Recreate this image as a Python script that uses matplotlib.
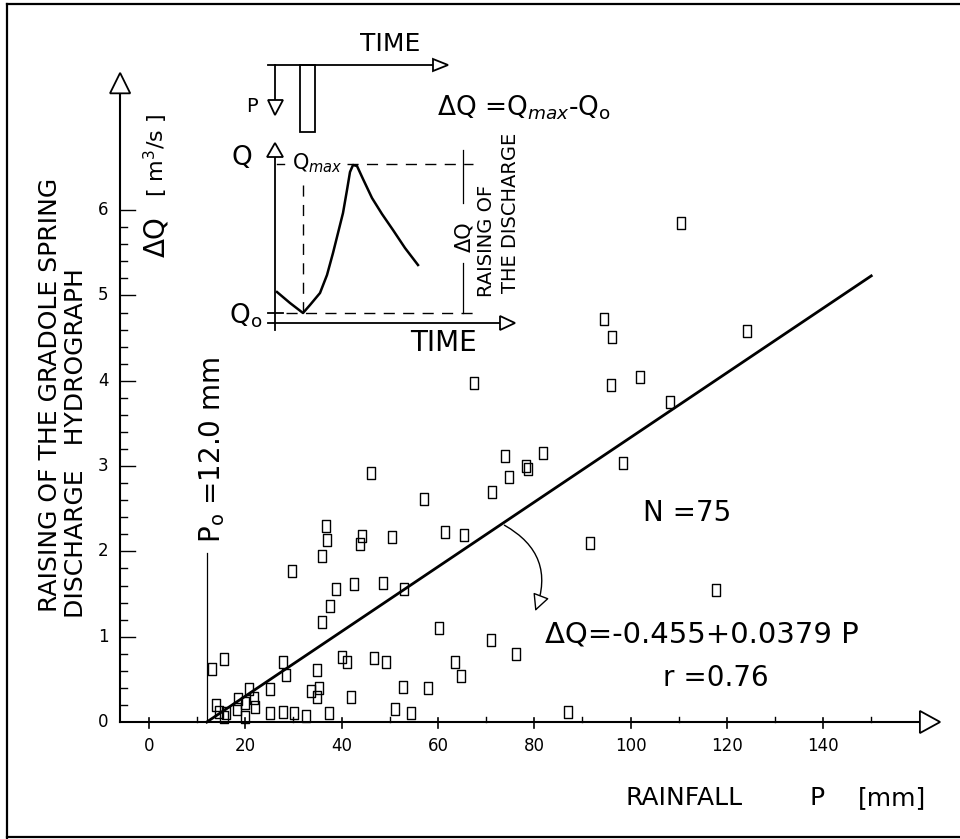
import matplotlib.pyplot as plt
import numpy as np
from matplotlib.path import Path
from matplotlib.patches import Polygon, Rectangle
from matplotlib.lines import Line2D

# rainfall P [mm] and raising of discharge dQ [m3/s] for each event
rainfall = [46.1, 36.8, 37.0, 44.2, 43.8, 50.5, 35.9, 29.7, 38.8, 42.6, 48.6, 53.0,
            37.6, 35.9, 13.1, 15.6, 27.8, 28.5, 34.9, 40.1, 41.1, 46.7, 49.2, 52.8,
            42.0, 33.6, 35.3, 34.9, 25.1, 20.8, 21.8, 22.0, 18.5, 18.3, 20.0, 20.0,
            13.9, 14.5, 16.0, 15.6, 25.1, 27.8, 30.1, 32.6, 37.4, 51.1, 54.4,
            67.5, 73.9, 78.3, 78.7, 81.8, 74.8, 71.2, 57.1, 61.5, 65.4,
            91.6, 60.2, 71.0, 76.2, 63.6, 64.8, 57.9, 87.0, 98.4, 117.8,
            110.5, 94.5, 96.2, 124.2, 102.0, 96.0, 108.2]
rise = [2.92, 2.30, 2.13, 2.18, 2.09, 2.17, 1.95, 1.77, 1.56, 1.62, 1.63, 1.56,
        1.36, 1.17, 0.62, 0.74, 0.70, 0.55, 0.61, 0.76, 0.70, 0.75, 0.70, 0.41,
        0.29, 0.36, 0.40, 0.29, 0.39, 0.39, 0.28, 0.18, 0.27, 0.15, 0.22, 0.06,
        0.20, 0.12, 0.10, 0.06, 0.10, 0.12, 0.10, 0.07, 0.10, 0.15, 0.11,
        3.97, 3.12, 3.00, 2.97, 3.15, 2.87, 2.70, 2.61, 2.23, 2.19,
        2.10, 1.10, 0.96, 0.80, 0.70, 0.54, 0.40, 0.12, 3.04, 1.55,
        5.85, 4.72, 4.51, 4.58, 4.05, 3.95, 3.75]

x_ticks = [0, 20, 40, 60, 80, 100, 120, 140]
x_minor = [10, 30, 50, 70, 90, 110, 130, 150]
y_ticks = [0, 1, 2, 3, 4, 5, 6]
intercept, slope = -0.455, 0.0379
p0 = 12.0
p_end = 150

# inset sketch of the hydrograph (sketch units = pixels of the inset box)
hydro_t = [277, 290, 303, 310, 320, 327, 333, 338, 343, 347, 350, 353,
           357, 363, 372, 382, 393, 405, 418]
hydro_q = [292, 303, 313, 305, 293, 275, 253, 233, 213, 190, 172, 165,
           166, 179, 198, 214, 230, 248, 265]

W, H = 960, 839
fig = plt.figure(figsize=(W / 100, H / 100), dpi=100)
ax = fig.add_axes([0, 0, 1, 1])
# 0 mm at x=149px, 4.815 px/mm ; 0 m3/s at y=722px, 85.3 px per m3/s
ax.set_xlim(-149 / 4.815, (W - 149) / 4.815)
ax.set_ylim((722 - H) / 85.3, 722 / 85.3)
ax.axis('off')


def ft(x, y, s, **kw):
    fig.text(x / W, 1 - y / H, s, **kw)


def tri(axis, pts):
    axis.add_patch(Polygon(pts, closed=True, facecolor='white', edgecolor='k',
                           lw=1.3, zorder=4))


# frame
for xs, ys in [([7, 7], [4, 838]), ([7, W], [4, 4]), ([7, W], [837, 837])]:
    fig.add_artist(Line2D([x / W for x in xs], [1 - y / H for y in ys],
                          transform=fig.transFigure, color='k', lw=1.6))

# axes with arrows
ya = -6.0
ax.plot([ya, ya], [0, 7.37], color='k', lw=1.5)
tri(ax, [(ya - 2.1, 7.37), (ya + 2.1, 7.37), (ya, 7.61)])
ax.plot([ya, 160.1], [0, 0], color='k', lw=1.5)
tri(ax, [(160.1, 0.13), (160.1, -0.13), (164.3, 0)])

for v in np.arange(0.2, 6.01, 0.2):
    ln = 15 if abs(v - round(v)) < 1e-6 else 7
    ax.plot([ya, ya + ln / 4.815], [v, v], color='k', lw=1.0)
for t in x_ticks:
    ax.plot([t, t], [4 / 85.3, -6 / 85.3], color='k', lw=1.2)
    ax.text(t, -0.28, str(t), ha='center', va='center', fontsize=12)
for t in x_minor:
    ax.plot([t, t], [0, 5 / 85.3], color='k', lw=1.0)
for t in y_ticks:
    ax.text(-9.5, t, str(t), ha='center', va='center', fontsize=12)

# data and regression
rect = Path([(-0.3, -0.5), (0.3, -0.5), (0.3, 0.5), (-0.3, 0.5), (-0.3, -0.5)],
            [Path.MOVETO, Path.LINETO, Path.LINETO, Path.LINETO, Path.CLOSEPOLY])
ax.plot(rainfall, rise, ls='none', marker=rect, ms=8.6, mfc='none', mec='k',
        mew=1.0, zorder=3)
px = np.array([p0, p_end])
ax.plot(px, intercept + slope * px, color='k', lw=2.0)
ax.plot([p0, p0], [0, 1.98], color='k', lw=0.9)

pa = 73.3
ax.annotate('', xy=(80.0, 1.27), xytext=(pa, intercept + slope * pa),
            arrowprops=dict(arrowstyle='-|>', connectionstyle='arc3,rad=-0.45',
                            fc='white', ec='k', lw=1.0, mutation_scale=26))

# texts
ft(212, 543, r'P$_\mathrm{o}$ =12.0 mm', rotation=90, ha='center', va='bottom',
   fontsize=20)
ft(643, 513, 'N =75', ha='left', va='center', fontsize=20)
ft(545, 635, 'ΔQ=-0.455+0.0379 P', ha='left', va='center', fontsize=21)
ft(663, 678, 'r =0.76', ha='left', va='center', fontsize=20)
ft(625, 798, 'RAINFALL', ha='left', va='center', fontsize=18)
ft(810, 798, 'P', ha='left', va='center', fontsize=18)
ft(858, 798, '[mm]', ha='left', va='center', fontsize=18)
ft(50, 612, 'RAISING OF THE GRADOLE SPRING', rotation=90, ha='center',
   va='bottom', fontsize=18)
ft(76, 618, 'DISCHARGE   HYDROGRAPH', rotation=90, ha='center', va='bottom',
   fontsize=18)
ft(156, 237, 'ΔQ', rotation=90, ha='center', va='center', fontsize=20)
ft(156, 155, r'[ m$^3$/s ]', rotation=90, ha='center', va='center', fontsize=16)

# inset
iax = fig.add_axes([200 / W, 1 - 380 / H, 360 / W, 360 / H])
iax.set_xlim(200, 560)
iax.set_ylim(380, 20)
iax.axis('off')
iax.patch.set_visible(False)
k = dict(color='k', lw=1.3)
dash = dict(color='k', lw=1.0, ls=(0, (8, 6)))

iax.plot([268, 433], [65, 65], **k)
tri(iax, [(433, 59), (448, 65), (433, 71)])
iax.plot([275, 275], [65, 100], **k)
tri(iax, [(268, 100), (283, 100), (275, 115)])
iax.add_patch(Rectangle((300, 65), 15, 67, fill=False, lw=1.3))

iax.plot([275, 275], [330, 157], **k)
tri(iax, [(267, 157), (283, 157), (275, 143)])
iax.plot([268, 500], [323, 323], **k)
tri(iax, [(500, 316), (515, 323), (500, 330)])
iax.plot([268, 283], [313, 313], **k)

iax.plot([347, 473], [164, 164], **dash)
iax.plot([277, 284], [164, 164], color='k', lw=1.0)
iax.plot([286, 478], [313, 313], **dash)
iax.plot([303, 303], [185, 313], **dash)
iax.plot([463, 463], [150, 203], color='k', lw=0.9)
iax.plot([463, 463], [263, 313], color='k', lw=0.9)
iax.plot(hydro_t, hydro_q, color='k', lw=1.8)

iax.text(390, 44, 'TIME', ha='center', va='center', fontsize=18)
iax.text(252, 107, 'P', ha='center', va='center', fontsize=14)
iax.text(437, 108, r'ΔQ =Q$_{max}$-Q$_\mathrm{o}$', ha='left', va='center',
         fontsize=19)
iax.text(242, 158, 'Q', ha='center', va='center', fontsize=19)
iax.text(292, 163, r'Q$_{max}$', ha='left', va='center', fontsize=15)
iax.text(246, 316, r'Q$_\mathrm{o}$', ha='center', va='center', fontsize=19)
iax.text(443, 343, 'TIME', ha='center', va='center', fontsize=20)
iax.text(464, 237, 'ΔQ', rotation=90, ha='center', va='center', fontsize=15)
iax.text(487, 297, 'RAISING OF', rotation=90, ha='center', va='bottom',
         fontsize=14)
iax.text(510, 293, 'THE DISCHARGE', rotation=90, ha='center', va='bottom',
         fontsize=14)

fig.savefig('out.png', dpi=100)
